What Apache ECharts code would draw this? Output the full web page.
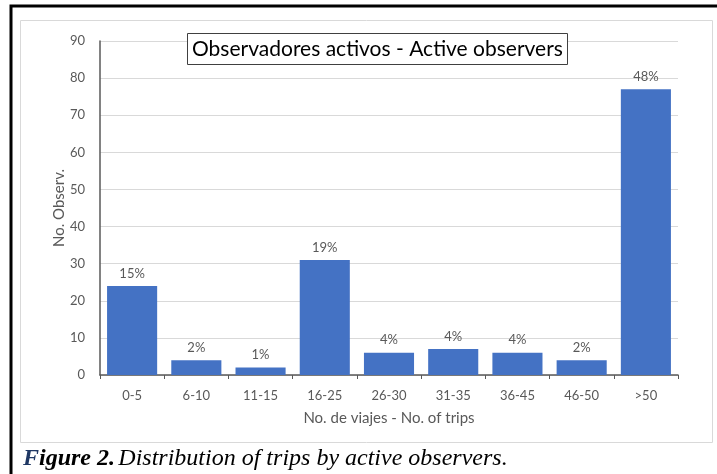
<!DOCTYPE html>
<html>
<head>
<meta charset="utf-8">
<script src="https://cdn.jsdelivr.net/npm/echarts@6/dist/echarts.min.js"></script>
<style>
  html, body { margin: 0; padding: 0; background: #fff; }
  #chart { width: 717px; height: 474px; }
</style>
</head>
<body>
<div id="chart"></div>
<script>
// trips per observer bins
const categories = ['0-5', '6-10', '11-15', '16-25', '26-30', '31-35', '36-45', '46-50', '>50'];
const observers = [24, 4, 2, 31, 6, 7, 6, 4, 77];
const shares = ['15%', '2%', '1%', '19%', '4%', '4%', '4%', '2%', '48%'];

const font = 'Lato, "Open Sans", sans-serif';
const grey = '#595959';

let chart = echarts.init(document.getElementById('chart'), null, {renderer: 'canvas'});

chart.setOption({
    animation: false,
    title: {
        text: 'Observadores activos - Active observers',
        left: 187,
        top: 33,
        padding: [6, 5, 5, 5],
        backgroundColor: '#fff',
        borderColor: '#404040',
        borderWidth: 1,
        textStyle: {fontFamily: font, fontSize: 21, fontWeight: 'normal', color: '#000'}
    },
    grid: {left: 100, right: 39, top: 41, bottom: 99},
    xAxis: {
        type: 'category',
        data: categories,
        name: 'No. de viajes - No. of trips',
        nameLocation: 'middle',
        nameGap: 36,
        nameTextStyle: {fontFamily: font, fontSize: 15, color: grey},
        axisLine: {lineStyle: {color: '#595959', width: 1.5}},
        axisTick: {show: true, length: 4, lineStyle: {color: '#595959'}},
        axisLabel: {fontFamily: font, fontSize: 13, color: grey, margin: 14}
    },
    yAxis: {
        type: 'value',
        min: 0,
        max: 90,
        interval: 10,
        name: 'No. Observ.',
        nameLocation: 'middle',
        nameGap: 33,
        nameMoveOverlap: false,
        nameTextStyle: {fontFamily: font, fontSize: 15, color: grey},
        axisLine: {show: true, lineStyle: {color: '#595959', width: 1.5}},
        axisTick: {show: false},
        axisLabel: {fontFamily: font, fontSize: 13, color: grey, margin: 15},
        splitLine: {lineStyle: {color: '#d9d9d9'}}
    },
    series: [{
        type: 'bar',
        data: observers,
        barCategoryGap: '22%',
        itemStyle: {color: '#4472C4'},
        label: {
            show: true,
            position: 'top',
            distance: 6,
            fontFamily: font,
            fontSize: 13,
            color: grey,
            formatter: function (p) { return shares[p.dataIndex]; }
        }
    }],
    graphic: [
        // outer black frame (left and top)
        {type: 'polyline', shape: {points: [[11, 474], [11, 6], [717, 6]]},
            style: {stroke: '#000', lineWidth: 3, fill: null}},
        // light chart area border
        {type: 'rect', shape: {x: 20.5, y: 20.5, width: 692, height: 422},
            style: {stroke: '#d9d9d9', lineWidth: 1, fill: null}, z: -1},
        // caption
        {type: 'text', left: 23, top: 447,
            style: {
                text: '{f|F}{b|igure 2.} {i|Distribution of trips by active observers.}',
                rich: {
                    f: {fontFamily: '"Liberation Serif", serif', fontSize: 24, fontStyle: 'italic', fontWeight: 'bold', fill: '#1f3864'},
                    b: {fontFamily: '"Liberation Serif", serif', fontSize: 24, fontStyle: 'italic', fontWeight: 'bold', fill: '#000'},
                    i: {fontFamily: '"Liberation Serif", serif', fontSize: 24, fontStyle: 'italic', fill: '#000'}
                }
            }}
    ]
});
</script>
</body>
</html>
